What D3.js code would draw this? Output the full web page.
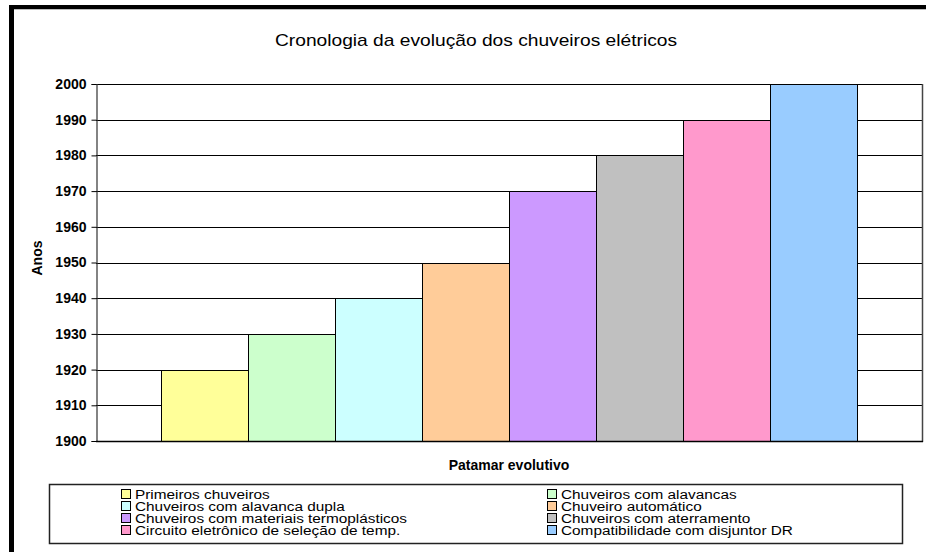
<!DOCTYPE html>
<html>
<head>
<meta charset="utf-8">
<script src="https://cdn.jsdelivr.net/npm/d3@7"></script>
<style>
  html, body { margin: 0; padding: 0; background: #fff; }
  svg { display: block; }
  text { font-family: Arial, "Liberation Sans", sans-serif; fill: #000; }
</style>
</head>
<body>
<svg id="chart" width="926" height="552"></svg>
<script>
// ---- Data ----
const title = "Cronologia da evolução dos chuveiros elétricos";
const yAxisTitle = "Anos";
const xAxisTitle = "Patamar evolutivo";
const seriesNames = [
  "Primeiros chuveiros",
  "Chuveiros com alavancas",
  "Chuveiros com alavanca dupla",
  "Chuveiro automático",
  "Chuveiros com materiais termoplásticos",
  "Chuveiros com aterramento",
  "Circuito eletrônico de seleção de temp.",
  "Compatibilidade com disjuntor DR"
];
const seriesValues = [1920, 1930, 1940, 1950, 1970, 1980, 1990, 2000];
const seriesColors = ["#FFFF99", "#CCFFCC", "#CCFFFF", "#FFCC99", "#CC99FF", "#C0C0C0", "#FF99CC", "#99CCFF"];
const yTicks = [1900, 1910, 1920, 1930, 1940, 1950, 1960, 1970, 1980, 1990, 2000];

// ---- Layout ----
const svg = d3.select("#chart");
const plot = { left: 96, right: 922, top: 84, bottom: 441 };

// Outer frame (thick black at left and top)
svg.append("rect").attr("x", 9).attr("y", 5).attr("width", 5).attr("height", 547).attr("fill", "#000");
svg.append("rect").attr("x", 9).attr("y", 5).attr("width", 917).attr("height", 4).attr("fill", "#000");
svg.append("line").attr("x1", 14).attr("x2", 926).attr("y1", 9.5).attr("y2", 9.5).attr("stroke", "#bbb").attr("stroke-width", 1);

const y = d3.scaleLinear().domain([1900, 2000]).range([plot.bottom, plot.top]);
const x = d3.scaleBand().domain(seriesNames).range([plot.left, plot.right]).paddingInner(0).paddingOuter(0.75);

// Gridlines
svg.append("g").selectAll("line").data(yTicks).join("line")
  .attr("x1", plot.left).attr("x2", plot.right)
  .attr("y1", d => Math.round(y(d)) + 0.5).attr("y2", d => Math.round(y(d)) + 0.5)
  .attr("stroke", "#000").attr("stroke-width", 1);

// Bars
svg.append("g").selectAll("rect").data(seriesValues).join("rect")
  .attr("x", (d, i) => Math.round(x(seriesNames[i])) + 0.5)
  .attr("y", d => Math.round(y(d)) + 0.5)
  .attr("width", (d, i) => Math.round(x(seriesNames[i]) + x.bandwidth()) - Math.round(x(seriesNames[i])))
  .attr("height", d => Math.round(y(1900)) - Math.round(y(d)))
  .attr("fill", (d, i) => seriesColors[i])
  .attr("stroke", "#000").attr("stroke-width", 1);

// Plot border (right side)
svg.append("line").attr("x1", plot.right + 0.5).attr("x2", plot.right + 0.5)
  .attr("y1", plot.top).attr("y2", plot.bottom + 1).attr("stroke", "#444").attr("stroke-width", 1.5);

// Y axis
const yAxis = d3.axisLeft(y).tickValues(yTicks).tickSize(5).tickPadding(5).tickFormat(d3.format("d"));
const gy = svg.append("g").attr("transform", `translate(${plot.left + 0.5},0)`).call(yAxis);
gy.select(".domain").attr("stroke", "#333").attr("stroke-width", 1.2);
gy.selectAll(".tick line").attr("stroke", "#000");
gy.selectAll(".tick text").attr("font-size", 14).attr("font-weight", "bold")
  .attr("font-family", "Arial, 'Liberation Sans', sans-serif").attr("fill", "#000");

// X axis baseline
svg.append("line").attr("x1", plot.left).attr("x2", plot.right + 1)
  .attr("y1", plot.bottom + 0.5).attr("y2", plot.bottom + 0.5).attr("stroke", "#000").attr("stroke-width", 1.5);

// Titles
svg.append("text").attr("x", 476).attr("y", 46).attr("text-anchor", "middle")
  .attr("font-size", 16).attr("transform", "translate(476,0) scale(1.2,1) translate(-476,0)")
  .text(title);
svg.append("text").attr("transform", "translate(42,258) rotate(-90)")
  .attr("text-anchor", "middle").attr("font-size", 14).attr("font-weight", "bold").text(yAxisTitle);
svg.append("text").attr("x", 509).attr("y", 470).attr("text-anchor", "middle")
  .attr("font-size", 14).attr("font-weight", "bold").text(xAxisTitle);

// Legend
const legend = svg.append("g");
legend.append("rect").attr("x", 49.5).attr("y", 484.5).attr("width", 853).attr("height", 59)
  .attr("fill", "#fff").attr("stroke", "#222").attr("stroke-width", 1.5);
const colX = [121, 547];
const rowY = [494, 506, 518, 530];
const items = legend.selectAll("g.item").data(seriesNames).join("g").attr("class", "item")
  .attr("transform", (d, i) => `translate(${colX[i % 2]},${rowY[Math.floor(i / 2)]})`);
items.append("rect").attr("x", 0.5).attr("y", -4.5).attr("width", 9).attr("height", 9)
  .attr("fill", (d, i) => seriesColors[i]).attr("stroke", "#000").attr("stroke-width", 1);
items.append("text").attr("transform", "translate(14,4.5) scale(1.28,1)")
  .attr("font-size", 12).text(d => d);
</script>
</body>
</html>
